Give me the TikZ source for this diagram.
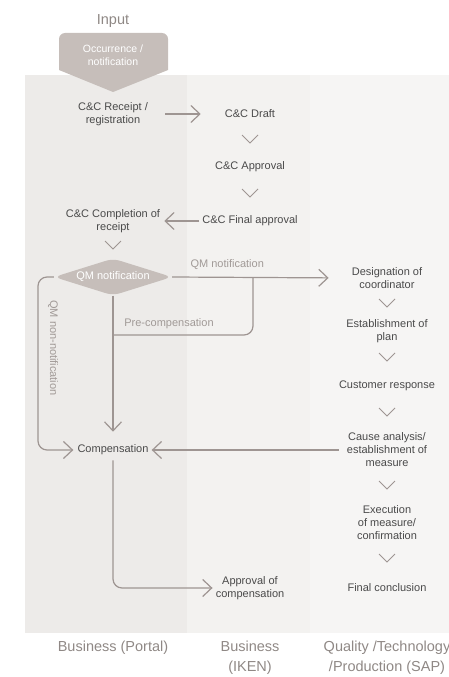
\documentclass[tikz,border=0pt]{standalone}
\usepackage{fontspec}
\setmainfont{Liberation Sans}
\usetikzlibrary{arrows.meta, shapes.geometric, calc}

\definecolor{laneA}{HTML}{EDEBE9}
\definecolor{laneB}{HTML}{F3F2F0}
\definecolor{laneC}{HTML}{F6F5F4}
\definecolor{shapefill}{HTML}{C6BEBA}
\definecolor{linecol}{HTML}{9E9592}
\definecolor{textcol}{HTML}{4A4A4A}
\definecolor{labelcol}{HTML}{A19A97}
\definecolor{footcol}{HTML}{8F8885}

\tikzset{
  txt/.style={align=center, text=textcol, font=\fontsize{11}{13}\selectfont, inner sep=2pt},
  lbl/.style={text=labelcol, font=\fontsize{11}{13}\selectfont, inner sep=1pt},
  foot/.style={align=center, text=footcol, font=\fontsize{14.5}{20}\selectfont},
  flow/.style={draw=linecol, line width=1.2pt, rounded corners=9pt,
    -{Straight Barb[length=9pt, width=17pt]}},
  chev/.style={draw=linecol, line width=1pt},
}

\begin{document}
\begin{tikzpicture}[x=1pt, y=-1pt]
    \useasboundingbox (0,0) rectangle (449,677);

    % lanes
    \fill[laneA] (25,75) rectangle (187,633);
    \fill[laneB] (187,75) rectangle (310,633);
    \fill[laneC] (310,75) rectangle (449,633);

    % input
    \node[foot] (input) at (113,21) {Input};
    \fill[shapefill] (113,92) -- (59,70) {[rounded corners=6pt] -- (59,33) -- (168,33)} -- (168,70) -- cycle;
    \node[txt, text=white, font=\fontsize{10.5}{13.5}\selectfont] (occ) at (113,55) {Occurrence /\\notification};

    % Business (Portal)
    \node[txt] (receipt) at (113,114) {C\&C Receipt /\\registration};
    \node[txt] (completion) at (113,221) {C\&C Completion of\\receipt};
    \node[diamond, fill=shapefill, aspect=3.2, minimum width=118pt, minimum height=37pt,
          inner sep=0pt, rounded corners=7pt, text=white, font=\fontsize{11}{13}\selectfont] (qm) at (113,277) {QM notification};
    \node[txt] (comp) at (113,450) {Compensation};

    % Business (IKEN)
    \node[txt] (draft) at (250,114) {C\&C Draft};
    \node[txt] (approval) at (250,167) {C\&C Approval};
    \node[txt] (final) at (250,221) {C\&C Final approval};
    \node[txt] (apcomp) at (250,588) {Approval of\\compensation};

    % Quality / Technology / Production
    \node[txt] (desig) at (387,278) {Designation of\\coordinator};
    \node[txt] (plan) at (387,331) {Establishment of\\plan};
    \node[txt] (cust) at (387,386) {Customer response};
    \node[txt] (cause) at (387,450) {Cause analysis/\\establishment of\\measure};
    \node[txt] (exec) at (387,523) {Execution\\of measure/\\confirmation};
    \node[txt] (concl) at (387,588) {Final conclusion};

    % chevrons
    \foreach \x/\y in {250/139, 250/193, 113/245, 387/303, 387/357, 387/412, 387/485, 387/558}
        \draw[chev] (\x-8,\y-4) -- (\x,\y+4) -- (\x+8,\y-4);

    % connectors
    \draw[flow, shorten <=15pt, shorten >=22pt] (receipt.east) -- (draft.west);
    \draw[flow, shorten <=1pt, shorten >=2pt] (final.west) -- (completion.east);
    \draw[flow, shorten >=21pt] (qm.east) -- node[lbl, above=6pt, pos=0.31] {QM notification} (desig.west);
    \coordinate (tap) at (253,277);
    \draw[flow, -] (tap) |- node[lbl, above=5pt, pos=0.8] {Pre-compensation} (113,335);
    \draw[flow, shorten >=11pt] (qm.south) -- (comp.north);
    \coordinate (leftx) at (38,0);
    \draw[flow, shorten >=2pt] (qm.west) -- (qm.west -| leftx) |- (comp.west);
    \node[lbl, rotate=-90] (nonlbl) at (53,348) {QM non-notification};
    \draw[flow, shorten <=6pt, shorten >=1pt] (cause.west) -- (comp.east);
    \draw[flow, shorten <=3pt, shorten >=1pt] (comp.south) |- (apcomp.west);

    % lane titles
    \node[foot] (laneone) at (113,648) {Business (Portal)};
    \node[foot] (lanetwo) at (250,658) {Business\\(IKEN)};
    \node[foot] (lanethree) at (387,658) {Quality /Technology\\/Production (SAP)};
\end{tikzpicture}
\end{document}
